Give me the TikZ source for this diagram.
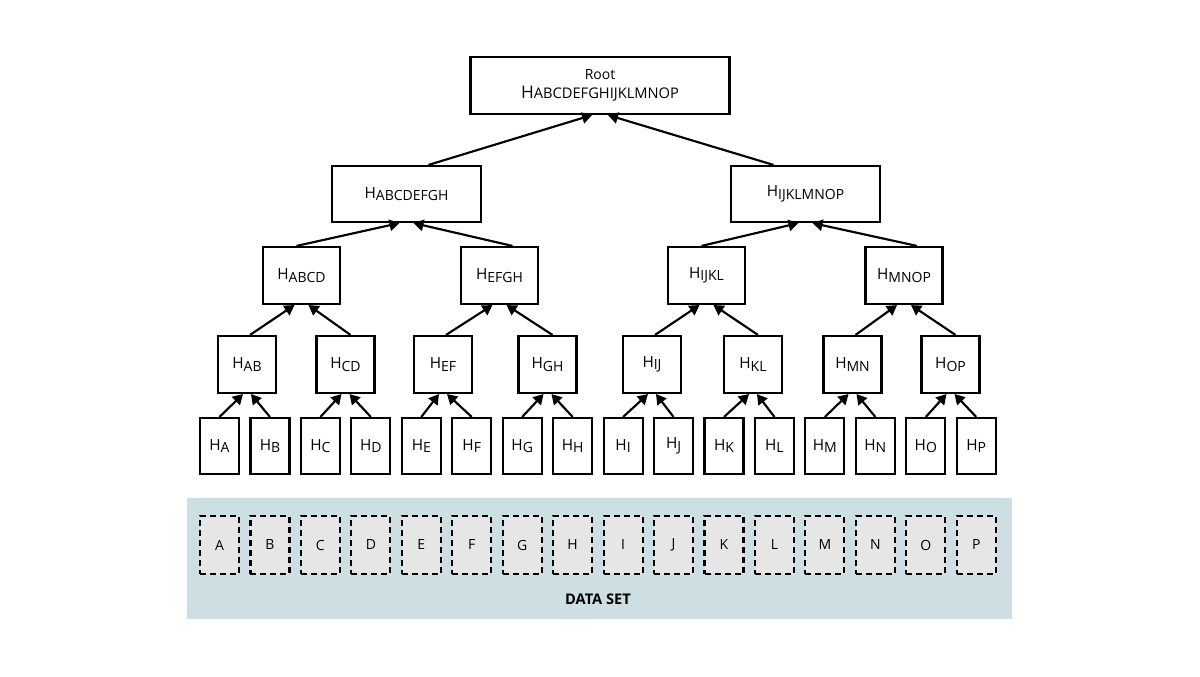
\documentclass[tikz,border=0pt]{standalone}
\usepackage{fontspec}
\setmainfont{Open Sans}
\usetikzlibrary{arrows.meta}

\definecolor{panelblue}{RGB}{205,223,227}
\definecolor{cellgrey}{RGB}{230,230,230}

% hash label: a large H followed by a smaller, slightly lowered subscript
\newcommand{\hashlbl}[1]{H\raisebox{-2pt}{\fontsize{10.5}{12}\selectfont #1}}

\begin{document}
\begin{tikzpicture}[x=0.75pt,y=-0.75pt,
  hashbox/.style={draw,line width=1.6pt,fill=white,inner sep=0pt,
    font=\fontsize{11.5}{13}\selectfont},
  rootbox/.style={hashbox,minimum width=194.25pt,minimum height=42.75pt,align=center},
  midbox/.style={hashbox,minimum width=111.75pt,minimum height=42pt},
  quadbox/.style={hashbox,minimum width=57.75pt,minimum height=42.75pt},
  pairbox/.style={hashbox,minimum width=43.5pt,minimum height=42.75pt},
  leafbox/.style={hashbox,minimum width=29.25pt,minimum height=42pt},
  cellbox/.style={draw,line width=1.6pt,dash pattern=on 4.5pt off 3pt,fill=cellgrey,
    inner sep=0pt,minimum width=29.25pt,minimum height=43.5pt,
    font=\fontsize{10.5}{12}\selectfont},
  panel/.style={fill=panelblue,draw=none,inner sep=0pt},
  link/.style={line width=1.6pt,-{Triangle[length=7.5pt,width=8.5pt]}}
]
\useasboundingbox (0,0) rectangle (1200,677);

% data set panel
\node[panel,minimum width=618.75pt,minimum height=90.75pt] (panel) at (599.5,558.5) {};
\node[font=\fontsize{11}{13}\selectfont\bfseries] (dslabel) at (598,599) {DATA SET};

% data blocks and leaf hashes
\foreach \l [count=\i from 0] in {A,B,C,D,E,F,G,H,I,J,K,L,M,N,O,P} {
  \node[cellbox] (d\l) at ({219.5+50.45*\i},545) {\l};
  \node[leafbox] (l\i) at ({219.5+50.45*\i},446) {\hashlbl{\l}};
}

% pair hashes
\foreach \lbl/\x [count=\i from 0] in {AB/247,CD/345.5,EF/443,GH/547.5,IJ/652,KL/753,MN/852.5,OP/950.5} {
  \node[pairbox] (p\i) at (\x,364.5) {\hashlbl{\lbl}};
}

% quad hashes
\foreach \lbl/\x [count=\i from 0] in {ABCD/301.5,EFGH/499.5,IJKL/706.5,MNOP/904} {
  \node[quadbox] (q\i) at (\x,275.5) {\hashlbl{\lbl}};
}

% half hashes
\node[midbox] (h0) at (406.5,194) {\hashlbl{ABCDEFGH}};
\node[midbox] (h1) at (805.5,194) {\hashlbl{IJKLMNOP}};

% root hash
\node[rootbox] (root) at (600,85.5)
  {{\fontsize{10.5}{12}\selectfont Root}\\[1pt]
   {\fontsize{13}{15}\selectfont H}{\fontsize{11}{13}\selectfont ABCDEFGHIJKLMNOP}};

% leaves -> pairs
\foreach \i in {0,...,15} {
  \pgfmathtruncatemacro{\up}{floor(\i/2)}
  \pgfmathsetmacro{\tip}{mod(\i,2)==0 ? -3 : 3}
  \draw[link] (l\i.north) -- ([xshift=\tip pt]p\up.south);
}

% pairs -> quads
\foreach \i in {0,...,7} {
  \pgfmathtruncatemacro{\up}{floor(\i/2)}
  \pgfmathsetmacro{\tip}{mod(\i,2)==0 ? -5.25 : 5.25}
  \pgfmathsetmacro{\src}{mod(\i,2)==0 ? 2.25 : 3.75}
  \draw[link] ([xshift=\src pt]p\i.north) -- ([xshift=\tip pt]q\up.south);
}

% quads -> halves
\foreach \i in {0,...,3} {
  \pgfmathtruncatemacro{\up}{floor(\i/2)}
  \pgfmathsetmacro{\tip}{mod(\i,2)==0 ? -5.25 : 5.25}
  \pgfmathsetmacro{\src}{mod(\i,2)==0 ? -3.75 : 9.75}
  \draw[link] ([xshift=\src pt]q\i.north) -- ([xshift=\tip pt]h\up.south);
}

% halves -> root
\draw[link] ([xshift=16.5pt]h0.north) -- ([xshift=-6pt]root.south);
\draw[link] ([xshift=-24pt]h1.north) -- ([xshift=6pt]root.south);

\end{tikzpicture}
\end{document}
